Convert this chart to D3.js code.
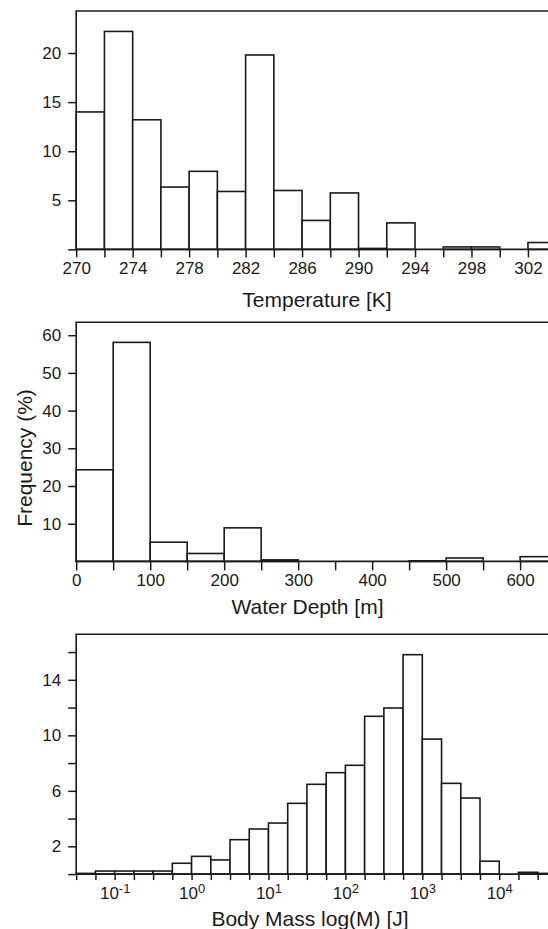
<!DOCTYPE html>
<html>
<head>
<meta charset="utf-8">
<script src="https://cdn.jsdelivr.net/npm/d3@7"></script>
<style>
    body { margin: 0; background: #fff; }
    svg text { font-family: "Liberation Sans", Arial, sans-serif; fill: #1a1a1a; }
</style>
</head>
<body>
<div id="chart"></div>
<script>
// Temperature histogram, 2 K bins from 270 K
const temp_start = 270;
const temp_bin = 2;
const temp_freq = [14.0, 22.2, 13.2, 6.35, 7.95, 5.9, 19.8, 6.0, 2.95, 5.75, 0.1, 2.7, 0, 0.25, 0.25, 0, 0.7];
const temp_ticks_y = [0, 5, 10, 15, 20];
const temp_labels_y = [5, 10, 15, 20];
const temp_labels_x = [270, 274, 278, 282, 286, 290, 294, 298, 302];

// Water depth histogram, 50 m bins from 0 m
const depth_start = 0;
const depth_bin = 50;
const depth_freq = [24.3, 58.1, 5.1, 2.1, 8.9, 0.4, 0, 0, 0, 0.15, 0.9, 0, 1.25];
const depth_ticks_y = [10, 20, 30, 40, 50, 60];
const depth_labels_x = [0, 100, 200, 300, 400, 500, 600];

// Body mass histogram, quarter-decade bins from 10^-1.5
const mass_start = -1.5;
const mass_bin = 0.25;
const mass_freq = [0.05, 0.22, 0.22, 0.22, 0.22, 0.78, 1.28, 1.02, 2.48, 3.25, 3.68, 5.1, 6.47, 7.31, 7.84,
                   11.37, 11.97, 15.81, 9.73, 6.54, 5.48, 0.93, 0, 0.13, 0.05];
const mass_ticks_y = [0, 2, 4, 6, 8, 10, 12, 14, 16];
const mass_labels_y = [2, 6, 10, 14];
const mass_decades = [-1, 0, 1, 2, 3, 4];

const W = 548, H = 929;
const left = 76.2;
const ink = '#1a1a1a';

const svg = d3.select('#chart').append('svg')
    .attr('width', W)
    .attr('height', H);

function make_bins(start, bin, freq) {
    return freq.map((v, i) => ({ x0: start + i * bin, x1: start + (i + 1) * bin, v: v }));
}

function draw_panel(p) {
    const g = svg.append('g');
    const y = d3.scaleLinear().domain([0, p.ymax]).range([p.y0, p.top]);
    const x = p.x;

    // bars
    g.selectAll('rect.bar')
        .data(make_bins(p.start, p.bin, p.freq).filter(d => d.v > 0))
        .enter().append('rect')
        .attr('class', 'bar')
        .attr('x', d => x(p.tx(d.x0)))
        .attr('width', d => x(p.tx(d.x1)) - x(p.tx(d.x0)))
        .attr('y', d => y(d.v))
        .attr('height', d => y(0) - y(d.v))
        .attr('fill', '#fff')
        .attr('stroke', ink)
        .attr('stroke-width', 1.6);

    // frame: left, top and baseline (right side runs off the page)
    g.append('path')
        .attr('d', `M${W + 10},${p.top}H${left}V${y(0)}H${W + 10}`)
        .attr('fill', 'none')
        .attr('stroke', ink)
        .attr('stroke-width', 1.6);

    // y axis
    const ya = g.append('g')
        .attr('transform', `translate(${left},0)`)
        .call(d3.axisLeft(y)
            .tickValues(p.yticks)
            .tickSize(8)
            .tickPadding(7)
            .tickFormat(d => p.ylabels.includes(d) ? d : ''));
    ya.select('.domain').remove();
    ya.selectAll('line').attr('stroke', ink).attr('stroke-width', 1.5);
    ya.selectAll('text').attr('font-size', '17px').attr('fill', ink);

    // x axis
    const xa = g.append('g')
        .attr('transform', `translate(0,${y(0)})`)
        .call(d3.axisBottom(x)
            .tickValues(p.xticks)
            .tickSize(p.xtick_size)
            .tickPadding(p.xtick_pad)
            .tickFormat(p.xformat));
    xa.select('.domain').remove();
    xa.selectAll('line').attr('stroke', ink).attr('stroke-width', 1.5);
    xa.selectAll('text').attr('font-size', '17px').attr('fill', ink);
    if (p.after_x) p.after_x(xa);

    // x title
    g.append('text')
        .attr('x', p.title_x)
        .attr('y', p.title_y)
        .attr('text-anchor', 'middle')
        .attr('font-size', '21px')
        .text(p.title);
    return g;
}

// --- Temperature ---
const x_temp = d3.scaleLinear().domain([270, 303.42]).range([left, W]);
const temp_edges = d3.range(temp_start, 303, temp_bin);
draw_panel({
    x: x_temp, tx: v => v,
    start: temp_start, bin: temp_bin, freq: temp_freq,
    top: 11, y0: 249.4, ymax: 24.28,
    yticks: temp_ticks_y, ylabels: temp_labels_y,
    xticks: temp_edges, xtick_size: 8, xtick_pad: 5,
    xformat: d => temp_labels_x.includes(d) ? d : '',
    title: 'Temperature [K]', title_x: 317, title_y: 306.5
});

// --- Water depth ---
const x_depth = d3.scaleLinear().domain([0, 637.7]).range([left, W]);
const depth_edges = d3.range(depth_start, 601, depth_bin);
draw_panel({
    x: x_depth, tx: v => v,
    start: depth_start, bin: depth_bin, freq: depth_freq,
    top: 322.3, y0: 561.4, ymax: 63.42,
    yticks: depth_ticks_y, ylabels: depth_ticks_y,
    xticks: depth_edges, xtick_size: 9, xtick_pad: 4,
    xformat: d => depth_labels_x.includes(d) ? d : '',
    title: 'Water Depth [m]', title_x: 307.5, title_y: 613.5
});

svg.append('text')
    .attr('transform', 'translate(32,458) rotate(-90)')
    .attr('text-anchor', 'middle')
    .attr('font-size', '21px')
    .text('Frequency (%)');

// --- Body mass (log axis) ---
const x_mass = d3.scaleLog().domain([Math.pow(10, -1.5), Math.pow(10, 4.634)]).range([left, W]);
const mass_edges = d3.range(0, 25).map(i => Math.pow(10, mass_start + i * mass_bin));
draw_panel({
    x: x_mass, tx: v => Math.pow(10, v),
    start: mass_start, bin: mass_bin, freq: mass_freq,
    top: 634.3, y0: 874.1, ymax: 17.28,
    yticks: mass_ticks_y, ylabels: mass_labels_y,
    xticks: mass_edges, xtick_size: 6, xtick_pad: 7,
    xformat: () => '',
    after_x: xa => {
        xa.selectAll('.tick').each(function(d) {
            const e = Math.log10(d);
            const r = Math.round(e);
            if (Math.abs(e - r) > 1e-6 || !mass_decades.includes(r)) return;
            const t = d3.select(this).select('text');
            t.append('tspan').text('10');
            t.append('tspan')
                .attr('dy', '-0.5em')
                .attr('font-size', '13px')
                .text(r);
        });
    },
    title: 'Body Mass log(M) [J]', title_x: 310, title_y: 926
});
</script>
</body>
</html>
